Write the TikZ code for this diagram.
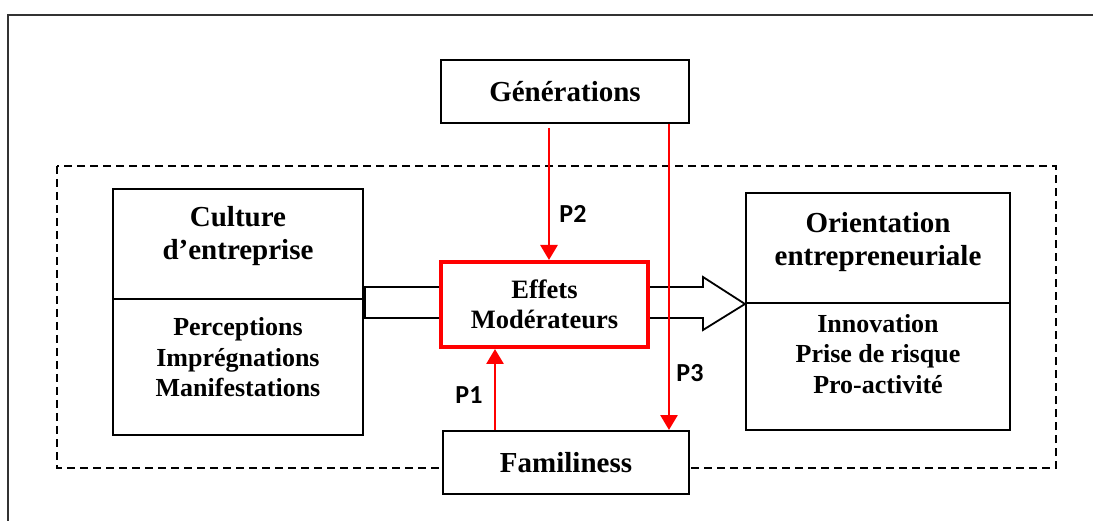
\documentclass[tikz,border=0pt]{standalone}
\usepackage{fontspec}
\setmainfont{Liberation Serif}
\newfontfamily\plabelfont{Carlito}
\usetikzlibrary{arrows.meta, positioning, calc}

\begin{document}
\begin{tikzpicture}[x=1pt, y=-1pt,
    box/.style={draw, line width=2pt, fill=white, inner sep=0pt},
    redbox/.style={draw=red, line width=4pt, fill=white, inner sep=0pt},
    title/.style={align=center, font=\bfseries\fontsize{29}{33}\selectfont},
    items/.style={align=center, font=\bfseries\fontsize{26}{30.5}\selectfont},
    arrow/.style={draw=red, line width=2.8pt, -{Triangle[width=17pt, length=15pt]}},
    blockline/.style={draw, line width=1.8pt},
    plabel/.style={font=\plabelfont\bfseries\fontsize{26}{30}\selectfont}
]
    \useasboundingbox (0,0) rectangle (1093,521);
    \draw[line width=2pt, black!80] (1093,15) -- (8,15) -- (8,521);
    \draw[line width=1.6pt, dash pattern=on 8pt off 5pt] (57,166) rectangle (1056,468);

    % left and right blocks
    \node[box, minimum width=250pt, minimum height=110pt] (cultTop) at (238,244) {};
    \node[box, minimum width=250pt, minimum height=136pt] (cultBot) at (238,367) {};
    \node[title] at ([yshift=8pt]cultTop.center) {Culture\\d’entreprise};
    \node[items] at ([yshift=9.5pt]cultBot.center) {Perceptions\\Imprégnations\\Manifestations};

    \node[box, minimum width=264pt, minimum height=110pt] (orTop) at (878,248) {};
    \node[box, minimum width=264pt, minimum height=127pt] (orBot) at (878,366.5) {};
    \node[title] at ([yshift=6pt]orTop.center) {Orientation\\entrepreneuriale};
    \node[items] at ([yshift=12.5pt]orBot.center) {Innovation\\Prise de risque\\Pro-activité};

    % middle
    \node[box, title, minimum width=248pt, minimum height=63pt] (gen) at (565,91.5) {Générations};
    \node[box, title, minimum width=246pt, minimum height=63pt] (fam) at (566,462.5) {Familiness};
    \node[redbox, items, font=\bfseries\fontsize{26.5}{30.6}\selectfont,
        minimum width=207pt, minimum height=85pt] (effets) at (544.5,304.5) {Effets\\Modérateurs};

    \draw[blockline] (effets.west |- 0,287) -- (365,287) -- (365,318) -- (effets.west |- 0,318);
    \draw[blockline] (effets.east |- 0,287) -- (703,287) -- (703,277) -- (orTop.south west)
        -- (703,330) -- (703,318) -- (effets.east |- 0,318);

    % red arrows
    \draw[arrow] ([xshift=-16pt, yshift=-4pt]gen.south) -- ([xshift=-16pt]gen.south |- effets.north);
    \draw[arrow] ([xshift=104pt]gen.south) -- ([xshift=104pt]gen.south |- fam.north);
    \draw[arrow] ([xshift=-71pt]fam.north) -- ([xshift=-71pt]fam.north |- effets.south);

    \node[plabel] (p2) at (573,213.5) {P2};
    \node[plabel] (p3) at (690,373) {P3};
    \node[plabel] (p1) at (469,395) {P1};
\end{tikzpicture}
\end{document}
